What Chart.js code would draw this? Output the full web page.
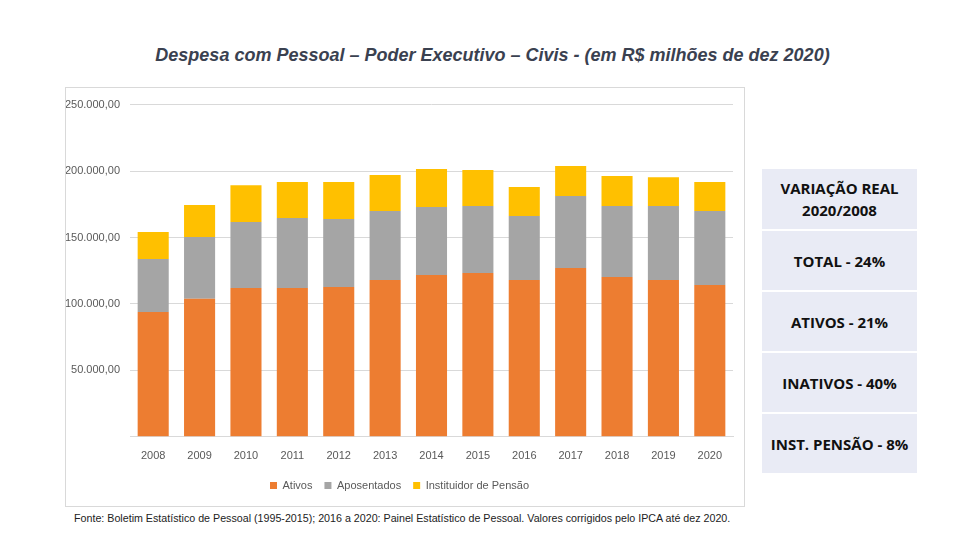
<!DOCTYPE html>
<html>
<head>
<meta charset="utf-8">
<script src="https://cdn.jsdelivr.net/npm/chart.js@4"></script>
<style>
  body { margin: 0; width: 960px; height: 540px; background: #fff; position: relative; overflow: hidden; font-family: 'Liberation Sans', Arial, sans-serif; }
  #title { position: absolute; left: 0; width: 985px; top: 45px; text-align: center; font-style: italic; font-weight: bold; font-size: 18px; color: #3a4150; }
  #box { position: absolute; left: 65px; top: 87px; width: 678px; height: 418px; border: 1px solid #d9d9d9; }
  #box canvas { position: absolute; left: 0; top: 0; }
  #note { position: absolute; left: 74px; top: 512px; font-family: 'Liberation Sans Narrow', 'Liberation Sans', sans-serif; font-size: 10.7px; color: #222; }
  .side { position: absolute; left: 762px; width: 155px; height: 59px; background: #e9ebf5; font-family: 'Open Sans', 'Liberation Sans', sans-serif; font-weight: bold; font-size: 15px; color: #111; display: flex; align-items: center; justify-content: center; text-align: center; line-height: 22px; }
</style>
</head>
<body>
<div id="title">Despesa com Pessoal – Poder Executivo – Civis - (em R$ milhões de dez 2020)</div>
<div id="box"><canvas id="chart" width="678" height="418"></canvas></div>
<div class="side" style="top:169px;height:60px">VARIAÇÃO REAL<br>2020/2008</div>
<div class="side" style="top:231px">TOTAL - 24%</div>
<div class="side" style="top:292px">ATIVOS - 21%</div>
<div class="side" style="top:353px">INATIVOS - 40%</div>
<div class="side" style="top:414px">INST. PENSÃO - 8%</div>
<div id="note">Fonte: Boletim Estatístico de Pessoal (1995-2015); 2016 a 2020: Painel Estatístico de Pessoal. Valores corrigidos pelo IPCA até dez 2020.</div>
<script>
const years = ['2008', '2009', '2010', '2011', '2012', '2013', '2014', '2015', '2016', '2017', '2018', '2019', '2020'];
const ativos = [94000, 103800, 112000, 112000, 112800, 118000, 121800, 123300, 118000, 127100, 120300, 118000, 114300];
const aposentados = [39800, 46600, 49600, 52600, 51100, 51900, 51100, 50400, 48100, 54100, 53400, 55600, 55600];
const pensao = [20300, 24100, 27800, 27100, 27800, 27100, 28600, 27100, 21800, 22600, 22600, 21800, 21800];

function fmt(v) {
  const s = String(Math.round(v)).replace(/\B(?=(\d{3})+(?!\d))/g, '.');
  return s + ',00';
}

const ctx = document.getElementById('chart').getContext('2d');
new Chart(ctx, {
  type: 'bar',
  data: {
    labels: years,
    datasets: [
      { label: 'Ativos', data: ativos, backgroundColor: '#ED7D31' },
      { label: 'Aposentados', data: aposentados, backgroundColor: '#A5A5A5' },
      { label: 'Instituidor de Pensão', data: pensao, backgroundColor: '#FFC000' }
    ]
  },
  options: {
    responsive: false,
    animation: false,
    layout: { padding: { top: 10, right: 11, left: 0, bottom: 5 } },
    datasets: { bar: { categoryPercentage: 1, barPercentage: 0.67 } },
    plugins: {
      legend: {
        position: 'bottom',
        labels: {
          boxWidth: 7, boxHeight: 7, padding: 12, color: '#595959',
          font: { family: "'Liberation Sans Narrow', 'Liberation Sans', sans-serif", size: 11 }
        }
      },
      tooltip: { enabled: false }
    },
    scales: {
      x: {
        stacked: true,
        grid: { display: false },
        border: { display: true, color: '#d9d9d9' },
        ticks: { color: '#595959', padding: 5, font: { family: "'Liberation Sans Narrow', 'Liberation Sans', sans-serif", size: 11 } }
      },
      y: {
        stacked: true,
        min: 0, max: 250000,
        afterFit: function(scale) { scale.width = 64; },
        grid: { color: '#d9d9d9', drawTicks: false },
        border: { display: false },
        ticks: {
          stepSize: 50000, padding: 10, color: '#595959',
          font: { family: "'Liberation Sans Narrow', 'Liberation Sans', sans-serif", size: 11 },
          callback: function(v) { return v === 0 ? '' : fmt(v); }
        }
      }
    }
  }
});
</script>
</body>
</html>
